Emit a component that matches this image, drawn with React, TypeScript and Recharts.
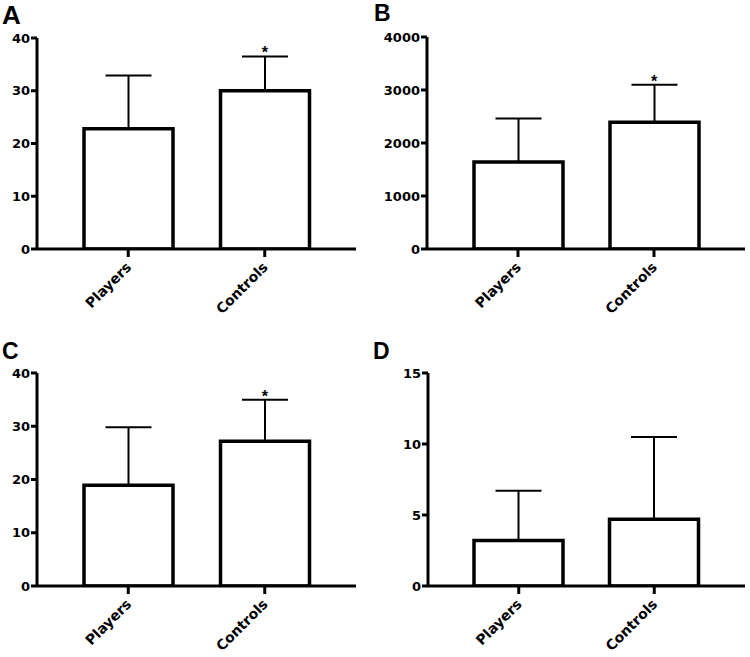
import { BarChart, Bar, XAxis, YAxis, ErrorBar, ReferenceDot } from 'recharts'

const categories = ['Players', 'Controls']

// A
const aMeans = [22.8, 30.0]
const aErrors = [10.1, 6.5]
const aTicks = [0, 10, 20, 30, 40]

// B
const bMeans = [1640, 2390]
const bErrors = [820, 710]
const bTicks = [0, 1000, 2000, 3000, 4000]

// C
const cMeans = [18.9, 27.2]
const cErrors = [10.9, 7.8]
const cTicks = [0, 10, 20, 30, 40]

// D
const dMeans = [3.2, 4.7]
const dErrors = [3.5, 5.8]
const dTicks = [0, 5, 10, 15]

// which groups get the significance star
const aStars = [false, true]
const bStars = [false, true]
const cStars = [false, true]
const dStars = [false, false]

const LETTER_FONT = '"Liberation Sans", Arial, Helvetica, sans-serif'
const TICK_FONT = '"DejaVu Sans", Verdana, sans-serif'

const XTick = (props: any) => {
  const { x, y, payload } = props
  const tx = x + 4
  const ty = y + 9
  return (
    <text
      x={tx}
      y={ty}
      transform={`rotate(-45 ${tx} ${ty})`}
      textAnchor="end"
      fontSize={14}
      fontWeight="bold"
      fontFamily={TICK_FONT}
      fill="#000"
    >
      {payload.value}
    </text>
  )
}

type PanelProps = {
  letter: string
  letterSize: number
  letterLeft: number
  letterTop: number
  means: number[]
  errors: number[]
  stars: boolean[]
  ticks: number[]
  left: number
  top: number
  yWidth: number
  marginTop: number
  marginRight: number
  xHeight: number
}

function Panel(p: PanelProps) {
  const data = categories.map((name, i) => ({
    name,
    mean: p.means[i],
    err: [0, p.errors[i]]
  }))
  const max = p.ticks[p.ticks.length - 1]

  return (
    <div style={{ position: 'absolute', left: p.left, top: p.top, width: 375, height: 330 }}>
      <BarChart
        width={375}
        height={330}
        data={data}
        margin={{ top: p.marginTop, right: p.marginRight, bottom: 0, left: 0 }}
      >
        <XAxis
          dataKey="name"
          padding={{ left: 23, right: 23 }}
          height={p.xHeight}
          tickSize={8}
          tickMargin={2}
          axisLine={{ stroke: '#000', strokeWidth: 3 }}
          tickLine={{ stroke: '#000', strokeWidth: 3 }}
          tick={<XTick />}
          interval={0}
        />
        <YAxis
          type="number"
          domain={[0, max]}
          ticks={p.ticks}
          width={p.yWidth}
          tickSize={6}
          tickMargin={1}
          axisLine={{ stroke: '#000', strokeWidth: 3 }}
          tickLine={{ stroke: '#000', strokeWidth: 3 }}
          tick={{ fontSize: 13, fontWeight: 'bold', fill: '#000', fontFamily: TICK_FONT }}
          allowDataOverflow
        />
        <Bar dataKey="mean" fill="#fff" stroke="#000" strokeWidth={3.5} barSize={89} isAnimationActive={false}>
          <ErrorBar dataKey="err" width={23} stroke="#000" strokeWidth={2} direction="y" />
        </Bar>
        {data.map((d, i) =>
          p.stars[i] ? (
            <ReferenceDot
              key={d.name}
              x={d.name}
              y={p.means[i] + p.errors[i]}
              r={0}
              stroke="none"
              fill="none"
              label={{ value: '*', position: 'top', offset: -2, fill: '#000', fontSize: 16, fontWeight: 'bold', fontFamily: LETTER_FONT }}
            />
          ) : null
        )}
      </BarChart>
      <div
        style={{
          position: 'absolute',
          left: p.letterLeft,
          top: p.letterTop,
          fontFamily: LETTER_FONT,
          fontWeight: 'bold',
          fontSize: p.letterSize,
          lineHeight: 'normal',
          color: '#000'
        }}
      >
        {p.letter}
      </div>
    </div>
  )
}

export default function App() {
  return (
    <div style={{ position: 'absolute', left: 0, top: 0, width: 750, height: 657, background: '#fff' }}>
      <Panel letter="A" letterSize={26} letterLeft={2} letterTop={0}
        means={aMeans} errors={aErrors} stars={aStars} ticks={aTicks}
        left={0} top={0} yWidth={37} marginTop={38} marginRight={19} xHeight={81} />
      <Panel letter="B" letterSize={23} letterLeft={-1} letterTop={0}
        means={bMeans} errors={bErrors} stars={bStars} ticks={bTicks}
        left={375} top={0} yWidth={52} marginTop={37} marginRight={5} xHeight={81} />
      <Panel letter="C" letterSize={23} letterLeft={2} letterTop={8}
        means={cMeans} errors={cErrors} stars={cStars} ticks={cTicks}
        left={0} top={330} yWidth={37} marginTop={43} marginRight={19} xHeight={74} />
      <Panel letter="D" letterSize={23} letterLeft={-2} letterTop={8}
        means={dMeans} errors={dErrors} stars={dStars} ticks={dTicks}
        left={375} top={330} yWidth={53} marginTop={43} marginRight={5} xHeight={74} />
    </div>
  )
}
